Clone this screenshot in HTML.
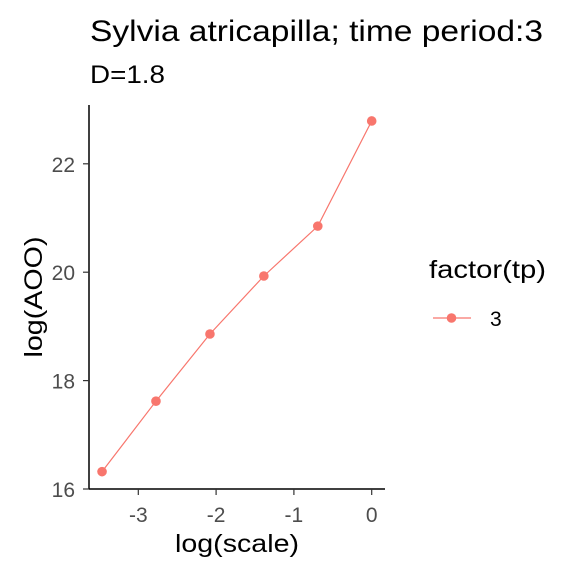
<!DOCTYPE html>
<html><head><meta charset="utf-8"><style>
body{margin:0;background:#fff;font-family:"Liberation Sans",Arial,sans-serif}
svg text{font-family:"Liberation Sans",Arial,sans-serif}
</style></head><body>
<svg width="576" height="576">
<rect width="576" height="576" fill="#fff"/>
<text x="90" y="41" font-size="30" textLength="453" lengthAdjust="spacingAndGlyphs" fill="#000">Sylvia atricapilla; time period:3</text>
<text x="90" y="83" font-size="25" textLength="75" lengthAdjust="spacingAndGlyphs" fill="#000">D=1.8</text>
<g id="axes"></g>
<g id="plot"></g>
<text x="175" y="552" font-size="25" textLength="124" lengthAdjust="spacingAndGlyphs" fill="#000">log(scale)</text>
<text transform="translate(42,297) rotate(-90)" text-anchor="middle" font-size="25" textLength="121" lengthAdjust="spacingAndGlyphs" fill="#000">log(AOO)</text>
<g>
<text x="429" y="278" font-size="25" textLength="117" lengthAdjust="spacingAndGlyphs" fill="#000">factor(tp)</text>
<line x1="433" y1="318" x2="471" y2="318" stroke="#F8766D" stroke-width="1.2"/>
<circle cx="451.5" cy="318" r="4.8" fill="#F8766D"/>
<text x="490" y="326" font-size="21" fill="#000">3</text>
</g>
</svg>
<script>
const xValues=[-3.466,-2.773,-2.079,-1.386,-0.693,0];
const yValues=[16.32,17.62,18.86,19.93,20.85,22.79];
const xTicks=[-3,-2,-1,0];
const yTicks=[16,18,20,22];
const ns="http://www.w3.org/2000/svg";
function sx(v){return 371.7+77.8*v;}
function sy(v){return 489-54.2*(v-16);}
function mk(t,a,p){const e=document.createElementNS(ns,t);for(const k in a)e.setAttribute(k,a[k]);p.appendChild(e);return e;}
const axes=document.getElementById('axes'),plot=document.getElementById('plot');
const xl=mk('line',{x1:89,y1:489,x2:385,y2:489,stroke:'#000','stroke-width':1.5},axes);


const yl=mk('line',{x1:89,y1:105,x2:89,y2:489,stroke:'#000','stroke-width':1.5},axes);


xTicks.forEach(t=>{
 const l=mk('line',{x1:sx(t),y1:489,x2:sx(t),y2:495,stroke:'#333','stroke-width':1.2},axes);
 
 
 const tx=mk('text',{x:sx(t),y:522,'text-anchor':'middle','font-size':21,fill:'#4d4d4d'},axes);
 tx.textContent=t===0?'0':'-'+Math.abs(t);
 
 
});
yTicks.forEach(t=>{
 const l=mk('line',{x1:83,y1:sy(t),x2:89,y2:sy(t),stroke:'#333','stroke-width':1.2},axes);
 
 
 const tx=mk('text',{x:75,y:sy(t)+8,'text-anchor':'end','font-size':21,fill:'#4d4d4d'},axes);
 tx.textContent=t;
 
 
});
const pl=mk('polyline',{points:xValues.map((x,i)=>sx(x)+','+sy(yValues[i])).join(' '),fill:'none',stroke:'#F8766D','stroke-width':1.2},plot);


xValues.forEach((x,i)=>{
 const c=mk('circle',{cx:sx(x),cy:sy(yValues[i]),r:4.8,fill:'#F8766D'},plot);
 
 
});
</script>
</body></html>
